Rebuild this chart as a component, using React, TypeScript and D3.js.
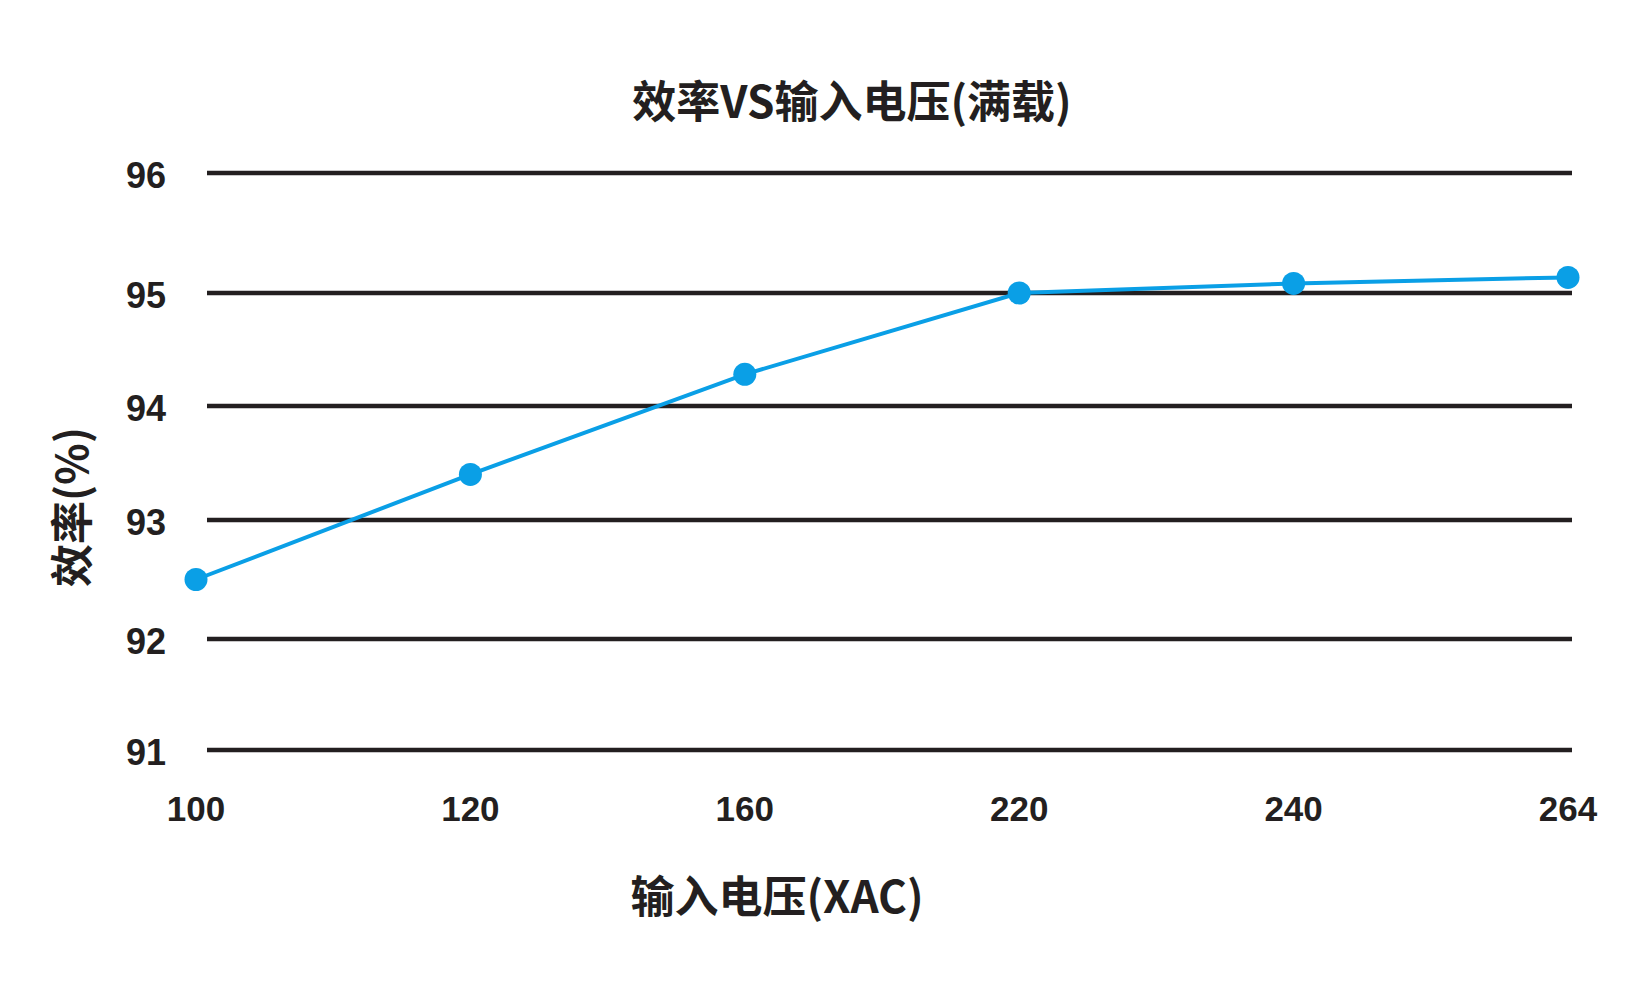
import { useMemo } from "react";
import * as d3 from "d3";

/* ------------------------------------------------------------------ */
/*  Data                                                              */
/* ------------------------------------------------------------------ */

const voltages = ["100", "120", "160", "220", "240", "264"];
const efficiency = [92.5, 93.4, 94.28, 95.0, 95.08, 95.13];
const yTicks = [91, 92, 93, 94, 95, 96];

const title = "效率VS输入电压(满载)";
const xTitle = "输入电压(XAC)";
const yTitle = "效率(%)";

/* ------------------------------------------------------------------ */
/*  Component                                                         */
/* ------------------------------------------------------------------ */

export default function App() {
  const width = 1648;
  const height = 1000;

  const ink = "#231f20";
  const blue = "#0a9fe6";
  const cjk = "'Noto Sans CJK SC', 'Noto Sans', sans-serif";
  const num = "'Liberation Sans', Arial, sans-serif";

  const gridLeft = 207;
  const gridRight = 1572;

  const xScale = useMemo(
    () => d3.scalePoint<string>().domain(voltages).range([196, 1568]),
    [],
  );
  // the source chart's gridlines are not evenly spaced, so the scale is piecewise
  const yScale = useMemo(
    () => d3.scaleLinear().domain(yTicks).range([750, 639, 520, 406, 293, 173]),
    [],
  );

  const points = voltages.map((v, i) => ({ v, e: efficiency[i] }));
  const linePath = d3
    .line<{ v: string; e: number }>()
    .x((d) => xScale(d.v) ?? 0)
    .y((d) => yScale(d.e))(points);

  return (
    <svg
      width={width}
      height={height}
      viewBox={`0 0 ${width} ${height}`}
      style={{ position: "absolute", left: 0, top: 0, background: "#fff" }}
    >
      {/* Title */}
      <text
        x={852}
        y={118}
        textAnchor="middle"
        fill={ink}
        fontFamily={cjk}
        fontWeight={700}
        fontSize={44}
      >
        {title}
      </text>

      {/* Grid lines */}
      {yTicks.map((t) => (
        <line
          key={`g-${t}`}
          x1={gridLeft}
          x2={gridRight}
          y1={yScale(t)}
          y2={yScale(t)}
          stroke={ink}
          strokeWidth={4.5}
        />
      ))}

      {/* Y tick labels */}
      {yTicks.map((t) => (
        <text
          key={`yl-${t}`}
          x={166}
          y={yScale(t) + 15}
          textAnchor="end"
          fill={ink}
          fontFamily={num}
          fontWeight={700}
          fontSize={36}
        >
          {t}
        </text>
      ))}

      {/* X tick labels */}
      {voltages.map((v) => (
        <text
          key={`xl-${v}`}
          x={xScale(v)}
          y={821}
          textAnchor="middle"
          fill={ink}
          fontFamily={num}
          fontWeight={700}
          fontSize={35}
        >
          {v}
        </text>
      ))}

      {/* Axis titles */}
      <text
        x={777}
        y={913}
        textAnchor="middle"
        fill={ink}
        fontFamily={cjk}
        fontWeight={700}
        fontSize={44}
      >
        {xTitle}
      </text>
      <text
        transform={`translate(88,507) rotate(-90)`}
        textAnchor="middle"
        fill={ink}
        fontFamily={cjk}
        fontWeight={700}
        fontSize={43}
      >
        {yTitle}
      </text>

      {/* Series */}
      <path d={linePath ?? ""} fill="none" stroke={blue} strokeWidth={4} />
      {points.map((d) => (
        <circle
          key={`p-${d.v}`}
          cx={xScale(d.v)}
          cy={yScale(d.e)}
          r={11.5}
          fill={blue}
        />
      ))}
    </svg>
  );
}
